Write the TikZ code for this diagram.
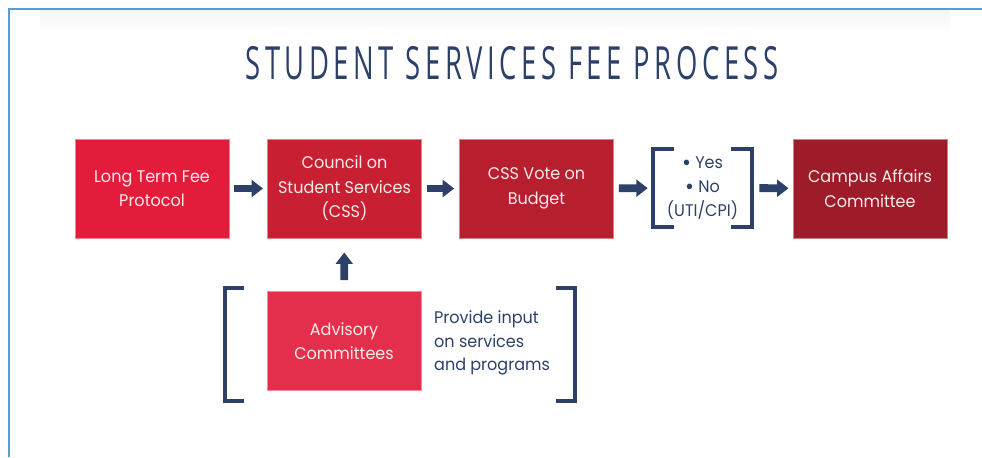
\documentclass[tikz,border=0pt]{standalone}
\usepackage{fontspec}
\usepackage{xcolor}
\usetikzlibrary{arrows.meta}
\setmainfont{Poppins}[FakeStretch=0.95]
\newfontfamily\titlefont[FakeStretch=0.6,LetterSpace=10]{Open Sans}
\newcommand{\bigdot}{\raisebox{-1.3pt}{\fontsize{13}{0}\selectfont\textbullet}}
\definecolor{navy}{HTML}{2C4068}
\definecolor{frameblue}{HTML}{5B9BD5}
\definecolor{redA}{HTML}{E31C3B}
\definecolor{redB}{HTML}{C81F32}
\definecolor{redC}{HTML}{B71E2E}
\definecolor{redD}{HTML}{9E1C29}
\definecolor{redE}{HTML}{E32E4C}
\definecolor{boxtext}{HTML}{FDEBEB}

\begin{document}
\begin{tikzpicture}[x=0.02cm,y=-0.02cm,
    step box/.style={rectangle,draw=#1!55!white,fill=#1,line width=0.5pt,
      minimum width=3.08cm,minimum height=1.98cm,inner sep=2pt,align=center,
      text=boxtext,font=\fontsize{9.6}{14}\selectfont},
    flow/.style={draw=navy,line width=4.5pt,-{Triangle[length=6.5pt,width=9.5pt]}},
    bracket/.style={draw=navy,line width=2.2pt},
    note/.style={text=navy,align=left,font=\fontsize{9.6}{13.5}\selectfont}]
  \useasboundingbox (0,0) rectangle (982,457);
  % frame and shadow
  \shade[top color=black!4,bottom color=white] (40,10) rectangle (950,32);
  \draw[frameblue,line width=1.2pt] (9,457) -- (9,9) -- (982,9);
  \node[text=navy,font=\titlefont\fontsize{26}{30}\selectfont] (title) at (512,63) {STUDENT SERVICES FEE PROCESS};
  % boxes
  \node[step box=redA] (ltfp) at (152,188.5) {Long Term Fee\\Protocol};
  \node[step box=redB] (css) at (344.5,188.5) {Council on\\Student Services\\(CSS)};
  \node[step box=redC] (vote) at (536.5,188.5) {CSS Vote on\\Budget};
  \node[minimum width=1.98cm,minimum height=1.56cm,inner sep=0pt,note,align=center] (result) at (702.5,188)
    {\bigdot\ Yes\\\bigdot\ No\\(UTI/CPI)};
  \node[step box=redD] (cac) at (870,188.5) {Campus Affairs\\Committee};
  \node[step box=redE] (adv) at (344,341) {Advisory\\Committees};
  \node[note,anchor=west] (input) at (428,343) {Provide input\\on services\\and programs};
  % brackets
  \draw[bracket] ([xshift=12]result.north west) -- (result.north west) -- (result.south west) -- ([xshift=12]result.south west);
  \draw[bracket] ([xshift=-12]result.north east) -- (result.north east) -- (result.south east) -- ([xshift=-12]result.south east);
  \draw[bracket] (244,288) -- (225,288) -- (225,401) -- (244,401);
  \draw[bracket] (556,288) -- (575,288) -- (575,401) -- (556,401);
  % arrows
  \path[flow,shorten <=2.8pt,shorten >=2.3pt] (ltfp) -- (css);
  \path[flow,shorten <=2.8pt,shorten >=2.8pt] (css) -- (vote);
  \path[flow,shorten <=2.8pt,shorten >=2.8pt] (vote) -- (result);
  \path[flow,shorten <=4pt,shorten >=2.3pt] (result) -- (cac);
  \path[flow,shorten <=6.2pt,shorten >=8pt] (adv) -- (css);
\end{tikzpicture}
\end{document}
